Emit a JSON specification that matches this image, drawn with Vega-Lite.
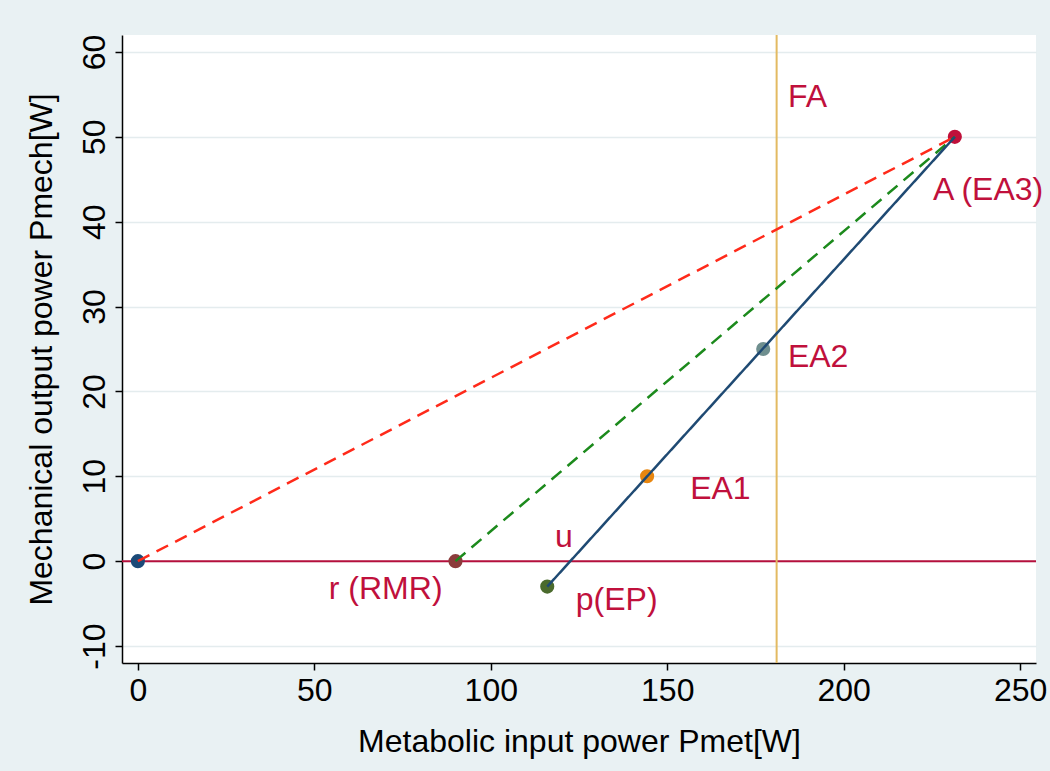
{
  "$schema": "https://vega.github.io/schema/vega-lite/v6.json",
  "width": 914,
  "height": 628,
  "autosize": {"type": "none"},
  "padding": {"left": 122, "top": 35, "right": 14, "bottom": 108},
  "background": "#e9f1f3",
  "config": {
    "view": {"fill": "white", "stroke": null},
    "font": "Liberation Sans",
    "axis": {
      "domainColor": "black",
      "domainWidth": 1.5,
      "tickColor": "black",
      "tickWidth": 1.5,
      "tickSize": 7,
      "labelFontSize": 32,
      "labelColor": "black",
      "titleFontSize": 32,
      "titleFontWeight": "normal",
      "titleColor": "black"
    }
  },
  "layer": [
    {
      "data": {"values": [{"y0": 0}]},
      "mark": {"type": "rule", "color": "#b5103c", "strokeWidth": 2},
      "encoding": {
        "y": {
          "field": "y0",
          "type": "quantitative",
          "scale": {"domain": [-12, 62], "nice": false, "zero": false},
          "axis": {
            "title": "Mechanical output power Pmech[W]",
            "values": [-10, 0, 10, 20, 30, 40, 50, 60],
            "labelExpr": "replace(datum.label, '−', '-')",
            "grid": true,
            "gridColor": "#e4ecee",
            "gridWidth": 1.5,
            "labelAngle": -90,
            "labelAlign": "center",
            "labelBaseline": "bottom",
            "labelPadding": 4,
            "titlePadding": 20
          }
        }
      }
    },
    {
      "data": {"values": [{"x0": 181}]},
      "mark": {"type": "rule", "color": "#e3ba62", "strokeWidth": 2},
      "encoding": {
        "x": {
          "field": "x0",
          "type": "quantitative",
          "scale": {"domain": [-4.5, 254.5], "nice": false, "zero": false},
          "axis": {
            "title": "Metabolic input power Pmet[W]",
            "values": [0, 50, 100, 150, 200, 250],
            "grid": false,
            "labelPadding": 5,
            "titlePadding": 20
          }
        }
      }
    },
    {
      "data": {
        "values": [
          {"x": 0, "y": 0, "pt": "o"},
          {"x": 90, "y": 0, "pt": "r"},
          {"x": 116, "y": -3, "pt": "p"},
          {"x": 144.3, "y": 10, "pt": "EA1"},
          {"x": 177.2, "y": 25, "pt": "EA2"},
          {"x": 231.5, "y": 50, "pt": "A"}
        ]
      },
      "mark": {"type": "point", "filled": true, "opacity": 1, "size": 200},
      "encoding": {
        "x": {"field": "x", "type": "quantitative"},
        "y": {"field": "y", "type": "quantitative"},
        "color": {
          "field": "pt",
          "type": "nominal",
          "legend": null,
          "scale": {
            "domain": ["o", "r", "p", "EA1", "EA2", "A"],
            "range": ["#1b4a78", "#8c3b3b", "#4b6b2d", "#e8860f", "#6f8f8f", "#c0103a"]
          }
        }
      }
    },
    {
      "data": {
        "values": [
          {"x": 0, "y": 0, "seg": "red"},
          {"x": 231.5, "y": 50, "seg": "red"},
          {"x": 90, "y": 0, "seg": "green"},
          {"x": 231.5, "y": 50, "seg": "green"},
          {"x": 116, "y": -3, "seg": "navy"},
          {"x": 231.5, "y": 50, "seg": "navy"}
        ]
      },
      "mark": {"type": "line", "strokeWidth": 2.5},
      "encoding": {
        "x": {"field": "x", "type": "quantitative"},
        "y": {"field": "y", "type": "quantitative"},
        "detail": {"field": "seg"},
        "stroke": {
          "field": "seg",
          "type": "nominal",
          "legend": null,
          "scale": {"domain": ["red", "green", "navy"], "range": ["#ff2a1a", "#1c8a1c", "#1f4a73"]}
        },
        "strokeDash": {
          "field": "seg",
          "type": "nominal",
          "legend": null,
          "scale": {"domain": ["red", "green", "navy"], "range": [[13, 8], [13, 8], [1, 0]]}
        }
      }
    },
    {
      "data": {
        "values": [
          {"x": 184.2, "y": 54.7, "label": "FA"},
          {"x": 225.3, "y": 43.7, "label": "A (EA3)"},
          {"x": 184.2, "y": 24.0, "label": "EA2"},
          {"x": 156.5, "y": 8.5, "label": "EA1"},
          {"x": 118.2, "y": 2.8, "label": "u"},
          {"x": 124.1, "y": -4.6, "label": "p(EP)"},
          {"x": 54.1, "y": -3.3, "label": "r (RMR)"}
        ]
      },
      "mark": {"type": "text", "align": "left", "baseline": "middle", "fontSize": 32, "color": "#c0103c"},
      "encoding": {
        "x": {"field": "x", "type": "quantitative"},
        "y": {"field": "y", "type": "quantitative"},
        "text": {"field": "label"}
      }
    }
  ]
}
